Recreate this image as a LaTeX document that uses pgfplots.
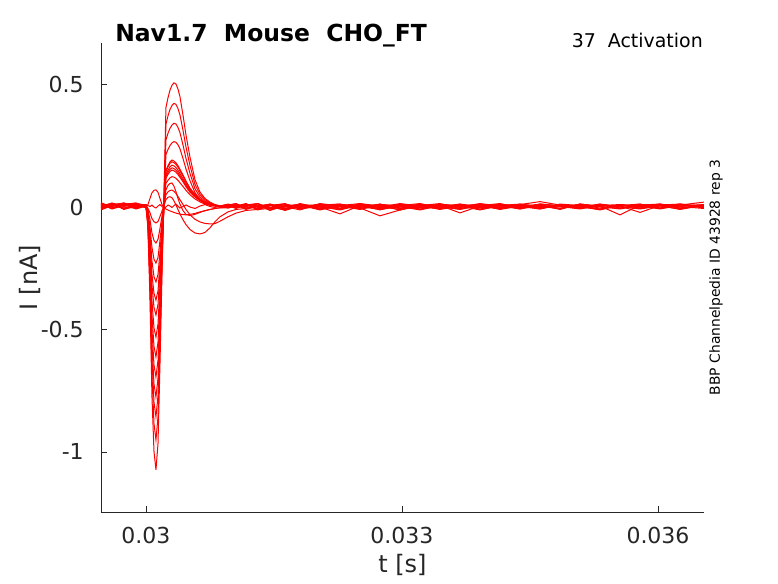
\documentclass[border=0pt]{standalone}
\usepackage{pgfplots}
\pgfplotsset{compat=1.18}
\usepackage{pgfplotstable}
\usepackage{fontspec}
\setmainfont{DejaVu Sans}
\definecolor{axgray}{RGB}{38,38,38}
\pgfplotstableread{
t T1 T2 T3 T4 T5 T6 T7 T8 T9 T10 T11 T12 T13 T14 T15
0.029473 0.008 -0.006 0.016 0.002 -0.012 0.012 0.004 -0.004 0.018 0.000 -0.008 0.010 0.006 -0.002 0.014
0.029602 0.012 0.004 -0.006 0.016 0.006 -0.008 0.014 0.010 -0.002 0.016 0.008 -0.006 0.012 0.014 0.002
0.029742 -0.006 0.016 0.010 -0.010 0.016 0.006 -0.004 0.016 0.008 0.002 0.014 0.012 -0.008 0.006 0.010
0.029883 0.010 0.000 0.016 0.006 -0.002 0.014 0.008 -0.008 0.012 -0.006 0.004 0.016 0.002 0.010 -0.004
0.030000 0.002 0.008 0.000 0.010 0.006 -0.004 0.010 0.004 0.002 0.008 -0.002 0.006 0.010 0.000 0.006
0.030023 0.010 -0.005 -0.012 -0.018 -0.024 -0.030 -0.035 -0.042 -0.049 -0.056 -0.062 -0.069 -0.076 -0.086 0.006
0.030047 0.035 -0.023 -0.051 -0.080 -0.107 -0.133 -0.154 -0.186 -0.214 -0.243 -0.272 -0.300 -0.333 -0.376 0.002
0.030070 0.058 -0.047 -0.106 -0.165 -0.220 -0.274 -0.318 -0.382 -0.441 -0.500 -0.559 -0.617 -0.685 -0.773 0.008
0.030094 0.068 -0.060 -0.137 -0.213 -0.285 -0.353 -0.410 -0.494 -0.569 -0.645 -0.722 -0.797 -0.884 -0.998 0.000
0.030117 0.070 -0.065 -0.147 -0.229 -0.306 -0.380 -0.441 -0.531 -0.612 -0.694 -0.776 -0.857 -0.951 -1.073 -0.004
0.030141 0.060 -0.059 -0.132 -0.206 -0.275 -0.342 -0.397 -0.478 -0.551 -0.625 -0.698 -0.771 -0.856 -0.966 0.004
0.030164 0.035 -0.039 -0.088 -0.137 -0.184 -0.228 -0.265 -0.319 -0.367 -0.416 -0.466 -0.514 -0.571 -0.644 0.010
0.030188 0.010 -0.016 -0.037 -0.057 -0.077 -0.095 -0.110 -0.133 -0.153 -0.174 -0.194 -0.214 -0.238 -0.268 0.002
0.030211 -0.003 0.005 0.008 0.010 0.010 0.011 0.012 0.011 0.006 -0.003 0.014 0.025 0.037 0.050 -0.006
0.030234 -0.008 0.030 0.050 0.070 0.097 0.118 0.133 0.150 0.144 0.125 0.214 0.274 0.338 0.406 0.000
0.030258 -0.012 0.040 0.062 0.088 0.109 0.133 0.150 0.169 0.163 0.141 0.235 0.301 0.372 0.446 0.008
0.030281 -0.016 0.042 0.068 0.096 0.119 0.145 0.164 0.184 0.178 0.154 0.251 0.321 0.398 0.477 0.004
0.030305 -0.019 0.038 0.069 0.098 0.124 0.151 0.171 0.192 0.185 0.160 0.262 0.335 0.415 0.497 -0.002
0.030328 -0.022 0.025 0.064 0.085 0.122 0.148 0.168 0.188 0.181 0.157 0.267 0.342 0.423 0.507 0.006
0.030352 -0.025 0.008 0.055 0.062 0.117 0.142 0.161 0.180 0.174 0.150 0.264 0.339 0.419 0.502 0.012
0.030375 -0.027 -0.010 0.043 0.035 0.109 0.133 0.150 0.169 0.163 0.141 0.254 0.325 0.402 0.482 0.004
0.030398 -0.029 -0.028 0.030 0.012 0.099 0.121 0.137 0.154 0.148 0.128 0.238 0.304 0.376 0.451 -0.004
0.030434 -0.031 -0.052 0.010 -0.015 0.084 0.103 0.116 0.131 0.126 0.109 0.198 0.253 0.313 0.375 0.002
0.030469 -0.032 -0.072 -0.010 -0.030 0.068 0.083 0.094 0.106 0.102 0.088 0.155 0.198 0.245 0.294 0.008
0.030516 -0.030 -0.092 -0.032 -0.035 0.050 0.060 0.068 0.077 0.074 0.064 0.107 0.137 0.169 0.203 0.000
0.030574 -0.026 -0.106 -0.050 -0.030 0.033 0.041 0.046 0.052 0.050 0.043 0.059 0.075 0.093 0.112 -0.006
0.030633 -0.020 -0.110 -0.061 -0.022 0.021 0.026 0.029 0.033 0.031 0.027 0.032 0.041 0.051 0.061 0.004
0.030691 -0.015 -0.104 -0.067 -0.015 0.012 0.015 0.017 0.019 0.019 0.016 0.019 0.024 0.030 0.035 0.010
0.030750 -0.010 -0.085 -0.069 -0.010 0.007 0.009 0.010 0.012 0.011 0.010 0.011 0.014 0.017 0.020 0.002
0.030809 -0.006 -0.060 -0.068 -0.006 0.004 0.005 0.005 0.006 0.006 0.005 0.005 0.007 0.008 0.010 -0.002
0.030867 -0.003 -0.040 -0.058 -0.003 0.002 0.002 0.003 0.003 0.003 0.002 0.003 0.003 0.004 0.005 0.006
0.030961 0.000 -0.020 -0.040 -0.004 0.006 0.008 0.002 0.010 0.004 0.006 0.012 0.008 0.006 0.010 -0.004
0.031055 0.008 -0.010 -0.025 0.004 -0.006 0.012 0.004 -0.002 0.014 0.000 0.006 0.014 -0.004 0.002 0.010
0.031172 -0.010 -0.006 -0.014 0.012 0.008 -0.004 0.014 0.006 -0.008 0.010 0.002 -0.006 0.012 0.008 0.000
0.031313 0.006 0.004 -0.010 -0.008 0.014 0.002 -0.010 0.012 0.004 -0.012 0.008 0.004 -0.002 0.014 -0.006
0.031453 -0.004 0.012 -0.006 0.006 -0.012 0.010 0.006 -0.008 0.000 0.008 -0.014 0.010 0.006 -0.004 0.012
0.031629 0.010 -0.006 0.000 -0.014 0.004 -0.008 0.012 0.002 -0.012 0.004 0.006 -0.010 0.014 0.000 -0.008
0.031805 -0.008 0.008 0.012 0.004 -0.006 0.014 -0.004 -0.012 0.008 -0.002 0.010 0.002 -0.008 0.010 0.004
0.032039 0.012 -0.012 0.002 0.010 0.008 -0.006 0.000 0.014 -0.004 0.012 -0.008 0.006 0.004 -0.010 0.002
0.032273 0.002 0.006 -0.010 -0.004 0.012 0.004 -0.028 0.004 0.010 -0.008 0.002 0.012 -0.006 0.008 -0.012
0.032508 -0.006 0.014 0.008 0.012 -0.004 -0.010 0.006 -0.008 0.002 0.014 0.004 -0.004 0.010 -0.002 0.008
0.032742 0.008 -0.004 -0.012 0.002 -0.036 0.008 -0.006 0.012 -0.010 0.004 0.010 0.000 -0.008 0.012 -0.002
0.032977 -0.012 0.010 0.006 -0.006 -0.012 0.002 0.012 -0.004 0.008 -0.012 0.006 0.014 0.000 -0.006 0.010
0.033211 0.004 -0.008 0.014 0.008 0.010 -0.012 0.002 0.006 -0.002 0.008 -0.010 0.004 0.012 0.002 -0.004
0.033445 0.010 0.002 -0.004 -0.010 0.000 0.006 -0.008 0.014 0.012 -0.004 0.008 -0.006 0.002 0.010 0.006
0.033680 -0.002 0.012 0.008 0.004 -0.008 -0.024 0.010 -0.006 0.004 0.012 0.000 0.008 -0.010 0.004 -0.008
0.033914 0.006 -0.010 0.000 0.012 0.006 0.004 -0.004 0.008 -0.012 0.002 0.014 -0.002 0.006 -0.008 0.012
0.034148 -0.008 0.004 0.010 -0.002 0.014 0.010 0.006 -0.010 0.006 -0.006 0.004 0.012 -0.004 0.008 0.000
0.034383 0.012 0.008 -0.008 0.006 -0.004 -0.006 0.012 0.004 0.010 0.008 -0.008 0.002 0.010 -0.002 0.006
0.034617 0.002 -0.006 0.012 -0.008 0.008 0.012 -0.002 0.010 0.022 -0.004 0.006 -0.008 0.004 0.012 -0.006
0.034852 -0.006 0.010 0.004 0.010 -0.010 0.002 0.008 -0.006 0.008 0.012 0.000 0.010 -0.006 0.006 0.008
0.035086 0.008 0.000 -0.006 0.004 0.012 -0.008 0.004 0.012 -0.004 0.006 0.010 -0.004 0.012 0.000 -0.004
0.035320 -0.004 0.012 0.008 -0.012 0.002 0.006 -0.010 0.002 0.012 -0.008 0.004 0.008 0.002 -0.010 0.010
0.035555 0.010 -0.004 0.002 0.008 -0.006 0.010 0.006 -0.008 0.000 0.010 -0.032 0.004 -0.006 0.008 0.002
0.035789 0.000 0.006 0.012 -0.004 0.010 -0.004 0.012 0.006 -0.006 0.002 0.008 -0.022 0.010 0.004 -0.008
0.036023 0.006 -0.008 -0.004 0.012 0.004 0.008 -0.006 0.010 0.008 -0.006 0.012 0.006 -0.004 0.012 0.004
0.036258 -0.010 0.008 0.010 0.002 -0.008 0.012 0.004 -0.004 0.002 0.012 -0.004 0.010 0.008 -0.006 0.012
0.036539 0.008 0.002 -0.002 0.010 0.006 -0.004 0.010 0.008 -0.006 0.004 0.008 -0.002 0.020 0.006 0.000
}\data

\begin{document}
\begin{tikzpicture}
\useasboundingbox (-75.75pt,-53.25pt) rectangle (507.75pt,384pt);
\begin{axis}[
  at={(0pt,0pt)}, anchor=south west,
  scale only axis, width=452.25pt, height=351.75pt,
  xmin=0.029473, xmax=0.036539, ymin=-1.2454, ymax=0.6697,
  axis x line*=bottom, axis y line*=left,
  axis line style={axgray, line width=0.6pt, -},
  tick align=inside, major tick length=4.5pt,
  tick style={axgray, line width=0.6pt},
  xtick={0.03,0.033,0.036}, xticklabels={0.03,0.033,0.036},
  ytick={-1,-0.5,0,0.5}, yticklabels={-1,-0.5,0,0.5},
  scaled x ticks=false, scaled y ticks=false,
  ticklabel style={font=\fontsize{16.5}{19}\selectfont, text=axgray},
  xticklabel style={inner sep=0pt, anchor=north, yshift=-11.25pt},
  yticklabel style={inner sep=0pt, anchor=east, xshift=-12.75pt},
  xlabel={t [s]}, ylabel={I [nA]},
  label style={font=\fontsize{18}{21}\selectfont, text=axgray},
  xlabel style={at={(axis description cs:0.5,-0.113)}, anchor=center},
  ylabel style={at={(axis description cs:-0.117,0.5)}, anchor=center},
  clip=true,
]
\pgfplotsinvokeforeach{1,...,15}{\addplot[red, line width=0.75pt] table[x=t,y=T#1]{\data};}
\end{axis}
\node[anchor=base west, inner sep=0pt, font=\fontsize{17.6}{20}\selectfont\bfseries] at (10.5pt,352.5pt) {Nav1.7\ \ Mouse\ \ CHO\_FT};
\node[anchor=base east, inner sep=0pt, font=\fontsize{14.2}{17}\selectfont] at (451.5pt,348pt) {37\ \ Activation};
\node[anchor=center, inner sep=0pt, rotate=90, font=\fontsize{10.4}{12}\selectfont] at (461.25pt,175.9pt) {BBP Channelpedia ID 43928 rep 3};
\end{tikzpicture}
\end{document}
